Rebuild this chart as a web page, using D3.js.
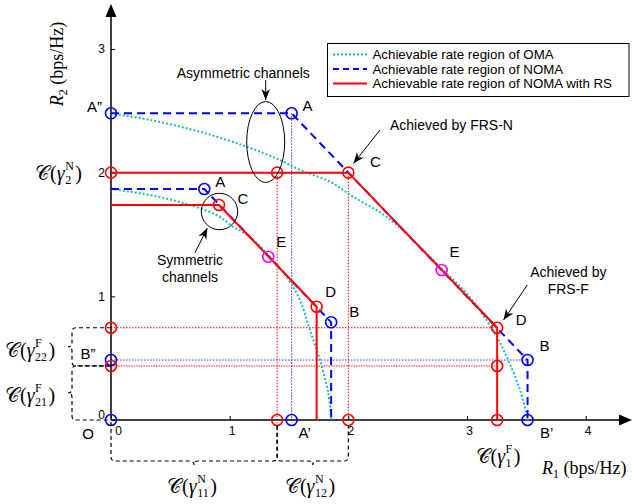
<!DOCTYPE html>
<html>
<head>
<meta charset="utf-8">
<script src="https://cdn.jsdelivr.net/npm/d3@7"></script>
<style>
  body { margin: 0; background: #fff; }
  text { font-family: "Liberation Sans", Arial, sans-serif; }
  .serif { font-family: "Liberation Serif", "DejaVu Serif", serif; }
</style>
</head>
<body>
<div id="chart"></div>
<script>
// DATA //

const xTicks = [0, 1, 2, 3, 4];
const yTicks = [0, 1, 2, 3];

// OMA regions (cyan dotted)
const omaOuter = [[0, 2.48], [0.329, 2.426], [0.75, 2.331], [1.143, 2.21], [1.424, 2.102], [1.592, 2.022],
  [1.845, 1.927], [2.039, 1.806], [2.323, 1.644], [2.603, 1.401], [2.797, 1.213], [2.997, 1.024],
  [3.218, 0.728], [3.334, 0.512], [3.446, 0.243], [3.505, 0.03], [3.51, 0]];
const omaInner = [[0, 1.868], [0.329, 1.819], [0.607, 1.755], [0.89, 1.658], [1.028, 1.563], [1.171, 1.482],
  [1.312, 1.348], [1.48, 1.159], [1.592, 0.97], [1.676, 0.728], [1.761, 0.485], [1.831, 0.216], [1.855, 0]];

// NOMA regions (blue dashed)
const nomaOuter = [[0, 2.48], [1.522, 2.48], [3.51, 0.485], [3.51, 0]];
const nomaInner = [[0, 1.868], [0.786, 1.868], [1.855, 0.79], [1.855, 0]];

// NOMA with RS (red solid)
const rsOuter = [[0, 2], [2, 2], [3.254, 0.746], [3.254, 0]];
const rsInner = [[0, 1.739], [0.91, 1.739], [1.733, 0.916], [1.733, 0]];

// circle markers
const bluePoints = [[0, 2.48], [1.522, 2.48], [1.522, 0], [3.51, 0.485], [3.51, 0], [0, 0], [0, 0.485],
  [0.786, 1.868], [1.855, 0.79]];
const redPoints = [[0, 2], [1.4, 2], [2, 2], [3.254, 0.746], [3.254, 0.437], [3.254, 0], [1.4, 0], [2, 0],
  [0, 0.746], [0, 0.437], [0.91, 1.739], [1.733, 0.916]];
const magentaPoints = [[2.786, 1.213], [1.325, 1.32]];

// dotted guide lines [x1, y1, x2, y2]
const redGuides = [[0, 0.746, 3.254, 0.746], [1.4, 2, 1.4, 0], [2, 2, 2, 0]];
const blueGuides = [[0, 0.485, 3.51, 0.485], [1.522, 2.48, 1.522, 0]];
const pinkGuides = [[0, 0.437, 3.254, 0.437]];

// point labels [text, x, y]
const pointLabels = [["A", 1.522, 2.48], ["C", 2, 2], ["E", 2.786, 1.213], ["D", 3.254, 0.746], ["B", 3.51, 0.485],
  ["A", 0.786, 1.868], ["C", 0.91, 1.739], ["E", 1.325, 1.32], ["D", 1.733, 0.916], ["B", 1.855, 0.79]];
const labelOffsets = [[16, -8], [27, -11], [13, -18], [24, -8], [17, -15],
  [16, -7], [24, -6], [13, -15], [14, -15], [23, -11]];

const legendNames = ["Achievable rate region of OMA", "Achievable rate region of NOMA", "Achievable rate region of NOMA with RS"];

// SETUP //

const W = 632, H = 504;
const svg = d3.select("#chart").append("svg")
  .attr("width", W).attr("height", H)
  .style("background", "#fff");

const x = d3.scaleLinear().domain([0, 4]).range([111, 585.7]);
const y = d3.scaleLinear().domain([0, 3]).range([420, 49]);

const defs = svg.append("defs");
defs.append("marker").attr("id", "arr")
  .attr("viewBox", "0 0 10 10").attr("refX", 10).attr("refY", 5)
  .attr("markerWidth", 11).attr("markerHeight", 11).attr("markerUnits", "userSpaceOnUse")
  .attr("orient", "auto")
  .append("path").attr("d", "M0,1 L10,5 L0,9 L3,5 z").attr("fill", "#000");

const line = d3.line().x(d => x(d[0])).y(d => y(d[1]));
const smooth = d3.line().x(d => x(d[0])).y(d => y(d[1])).curve(d3.curveCatmullRom);

// GUIDES //

function guides(arr, color, width, dash) {
  svg.append("g").selectAll("line").data(arr).enter().append("line")
    .attr("x1", d => x(d[0])).attr("y1", d => y(d[1]))
    .attr("x2", d => x(d[2])).attr("y2", d => y(d[3]))
    .attr("stroke", color).attr("stroke-width", width)
    .attr("stroke-dasharray", dash);
}
guides(pinkGuides, "#ff8c8c", 2, "1.5,1");
guides(redGuides, "#ff0000", 1, "1.5,1.5");
guides(blueGuides, "#3030ff", 1, "1.5,1.5");

// AXES //

const xAxis = svg.append("g").attr("transform", `translate(0,${y(0)})`)
  .call(d3.axisBottom(x).tickValues(xTicks).tickSizeInner(-4).tickSizeOuter(0).tickPadding(6).tickFormat(d3.format("d")));
const yAxis = svg.append("g").attr("transform", `translate(${x(0)},0)`)
  .call(d3.axisLeft(y).tickValues(yTicks).tickSizeInner(-4).tickSizeOuter(0).tickPadding(6).tickFormat(d3.format("d")));
[xAxis, yAxis].forEach(a => {
  a.select(".domain").remove();
  a.selectAll("text").attr("font-size", 12).attr("font-family", "Liberation Sans, Arial, sans-serif").attr("fill", "#000");
  a.selectAll("line").attr("stroke", "#000");
});
xAxis.selectAll("text").attr("dx", 2);
xAxis.selectAll("text").filter(d => d === 0).attr("dx", 7);
yAxis.selectAll("text").filter(d => d === 0).attr("dy", "-0.1em");

svg.append("line").attr("x1", x(0)).attr("y1", y(0)).attr("x2", 621).attr("y2", y(0))
  .attr("stroke", "#000").attr("stroke-width", 1.5);
svg.append("path").attr("d", `M632,${y(0)} L619,${y(0) - 5.5} L619,${y(0) + 5.5} Z`).attr("fill", "#000");
svg.append("line").attr("x1", x(0)).attr("y1", y(0)).attr("x2", x(0)).attr("y2", 16)
  .attr("stroke", "#000").attr("stroke-width", 1.5);
svg.append("path").attr("d", `M${x(0)},4 L${x(0) - 5.5},17 L${x(0) + 5.5},17 Z`).attr("fill", "#000");

// CURVES //

[omaOuter, omaInner].forEach(d => svg.append("path").datum(d).attr("d", smooth)
  .attr("fill", "none").attr("stroke", "#1cbcbc").attr("stroke-width", 2).attr("stroke-dasharray", "2,2"));
[nomaOuter, nomaInner].forEach(d => svg.append("path").datum(d).attr("d", line)
  .attr("fill", "none").attr("stroke", "#0000ff").attr("stroke-width", 2).attr("stroke-dasharray", "8,5"));
[rsOuter, rsInner].forEach(d => svg.append("path").datum(d).attr("d", line)
  .attr("fill", "none").attr("stroke", "#ff0000").attr("stroke-width", 2));

// MARKERS //

function circles(arr, color) {
  svg.append("g").selectAll("circle").data(arr).enter().append("circle")
    .attr("cx", d => x(d[0])).attr("cy", d => y(d[1])).attr("r", 5.5)
    .attr("fill", "none").attr("stroke", color).attr("stroke-width", 1.6);
}
circles(bluePoints, "#0000ff");
circles(redPoints, "#ff0000");
circles(magentaPoints, "#ff00ff");

// LABELS //

svg.append("g").selectAll("text").data(pointLabels).enter().append("text")
  .attr("x", (d, i) => x(d[1]) + labelOffsets[i][0])
  .attr("y", (d, i) => y(d[2]) + labelOffsets[i][1])
  .attr("text-anchor", "middle").attr("dominant-baseline", "central")
  .attr("font-size", 15).text(d => d[0]);

function plainLabel(t, px, py, anchor) {
  svg.append("text").attr("x", px).attr("y", py).attr("text-anchor", anchor || "middle")
    .attr("dominant-baseline", "central").attr("font-size", 15).text(t);
}
plainLabel("A\u201D", x(0) - 9, y(2.48) - 7, "end");
plainLabel("B\u201D", x(0) - 23, y(0.485) - 7);
plainLabel("A\u2019", x(1.522) + 13, y(0) + 12);
plainLabel("B\u2019", x(3.51) + 19, y(0) + 12);
plainLabel("O", x(0) - 23, y(0) + 13);

// math labels C(gamma)
function mathLabel(px, py, sup, sub, anchor) {
  const g = svg.append("g");
  const t1 = g.append("text").attr("class", "serif").attr("x", 0).attr("y", 0)
    .attr("dominant-baseline", "central").attr("font-size", 20);
  t1.append("tspan").text("\uD835\uDC9E(");
  t1.append("tspan").attr("font-style", "italic").text("\u03B3");
  const w1 = t1.node().getComputedTextLength();
  const ts = g.append("text").attr("class", "serif").attr("x", w1 + 0.5).attr("y", -7)
    .attr("dominant-baseline", "central").attr("font-size", 12).text(sup);
  const tb = g.append("text").attr("class", "serif").attr("x", w1 + 0.5).attr("y", 7)
    .attr("dominant-baseline", "central").attr("font-size", 12).text(sub);
  const w2 = Math.max(ts.node().getComputedTextLength(), tb.node().getComputedTextLength());
  const t3 = g.append("text").attr("class", "serif").attr("x", w1 + w2 + 2).attr("y", 0)
    .attr("dominant-baseline", "central").attr("font-size", 20).text(")");
  const total = w1 + w2 + 2 + t3.node().getComputedTextLength();
  const dx = anchor === "end" ? -total : anchor === "start" ? 0 : -total / 2;
  g.attr("transform", `translate(${px + dx},${py})`);
}
mathLabel(82, y(2), "N", "2", "end");
mathLabel(5, 350, "F", "22", "start");
mathLabel(5, 395, "F", "21", "start");
mathLabel(192, 486, "N", "11");
mathLabel(310, 486, "N", "12");
mathLabel(498, 456, "F", "1");

// axis titles
const r2 = svg.append("text").attr("class", "serif").attr("font-size", 18)
  .attr("transform", "translate(63,64) rotate(-90)").attr("text-anchor", "middle");
r2.append("tspan").attr("font-style", "italic").text("R");
r2.append("tspan").attr("font-size", 12).attr("dy", 4).text("2");
r2.append("tspan").attr("dy", -4).text(" (bps/Hz)");

const r1 = svg.append("text").attr("class", "serif").attr("font-size", 18)
  .attr("x", 542).attr("y", 474);
r1.append("tspan").attr("font-style", "italic").text("R");
r1.append("tspan").attr("font-size", 12).attr("dy", 4).text("1");
r1.append("tspan").attr("dy", -4).text(" (bps/Hz)");

// BRACES //

function vBrace(y1, y2, xr, xl) {
  const m = (y1 + y2) / 2, xc = xl + 4;
  return `M${xr},${y1} L${xl + 8},${y1} Q${xc},${y1} ${xc},${y1 + 4} L${xc},${m - 4} Q${xc},${m} ${xl},${m}` +
    ` Q${xc},${m} ${xc},${m + 4} L${xc},${y2 - 4} Q${xc},${y2} ${xl + 8},${y2} L${xr},${y2}`;
}
function hBrace(x1, x2, yt, yb) {
  const m = (x1 + x2) / 2, yc = yb - 4;
  return `M${x1},${yt} L${x1},${yc - 4} Q${x1},${yc} ${x1 + 4},${yc} L${m - 4},${yc} Q${m},${yc} ${m},${yb}` +
    ` Q${m},${yc} ${m + 4},${yc} L${x2 - 4},${yc} Q${x2},${yc} ${x2},${yc - 4} L${x2},${yt}`;
}
const braceStyle = p => p.attr("fill", "none").attr("stroke", "#000").attr("stroke-width", 1.2).attr("stroke-dasharray", "4,3");
svg.append("path").attr("d", vBrace(y(0.746), y(0.437), x(0), 68)).call(braceStyle);
svg.append("path").attr("d", vBrace(y(0.437), y(0), x(0), 68)).call(braceStyle);
svg.append("path").attr("d", hBrace(x(0), x(1.4), y(0) + 2, 465)).call(braceStyle);
svg.append("path").attr("d", hBrace(x(1.4), x(2), y(0) + 6, 465)).call(braceStyle);

// ANNOTATIONS //

svg.append("ellipse").attr("cx", 265.7).attr("cy", 142).attr("rx", 19).attr("ry", 40.5)
  .attr("fill", "none").attr("stroke", "#000").attr("stroke-width", 1);
svg.append("circle").attr("cx", 219.5).attr("cy", 211.5).attr("r", 18.2)
  .attr("fill", "none").attr("stroke", "#000").attr("stroke-width", 1);

function arrow(x1, y1, x2, y2) {
  svg.append("line").attr("x1", x1).attr("y1", y1).attr("x2", x2).attr("y2", y2)
    .attr("stroke", "#000").attr("stroke-width", 1).attr("marker-end", "url(#arr)");
}
arrow(265.7, 80, 265.7, 100);
arrow(195, 252.7, 207.3, 228);
arrow(380, 130, 353.5, 163.5);
arrow(527.3, 285, 503.5, 320);

function note(lines, px, py, anchor) {
  lines.forEach((t, i) => svg.append("text").attr("x", px).attr("y", py + i * 17)
    .attr("text-anchor", anchor || "middle").attr("dominant-baseline", "central")
    .attr("font-size", 14).text(t));
}
note(["Asymmetric channels"], 243.3, 72.5);
note(["Symmetric", "channels"], 190, 260);
note(["Achieved by FRS-N"], 390, 125, "start");
note(["Achieved by", "FRS-F"], 568.3, 271.7);

// LEGEND //

const lg = svg.append("g");
lg.append("rect").attr("x", 327.5).attr("y", 43.5).attr("width", 301.5).attr("height", 53)
  .attr("fill", "#fff").attr("stroke", "#000").attr("stroke-width", 1);
const legendStyles = [["#1cbcbc", "2,2"], ["#0000ff", "6,4"], ["#ff0000", null]];
legendNames.forEach((name, i) => {
  const ly = 54.5 + i * 14.5;
  lg.append("line").attr("x1", 333).attr("x2", 367).attr("y1", ly).attr("y2", ly)
    .attr("stroke", legendStyles[i][0]).attr("stroke-width", 1.8)
    .attr("stroke-dasharray", legendStyles[i][1]);
  lg.append("text").attr("x", 372.5).attr("y", ly).attr("dominant-baseline", "central")
    .attr("font-size", 13.3).text(name);
});
</script>
</body>
</html>
